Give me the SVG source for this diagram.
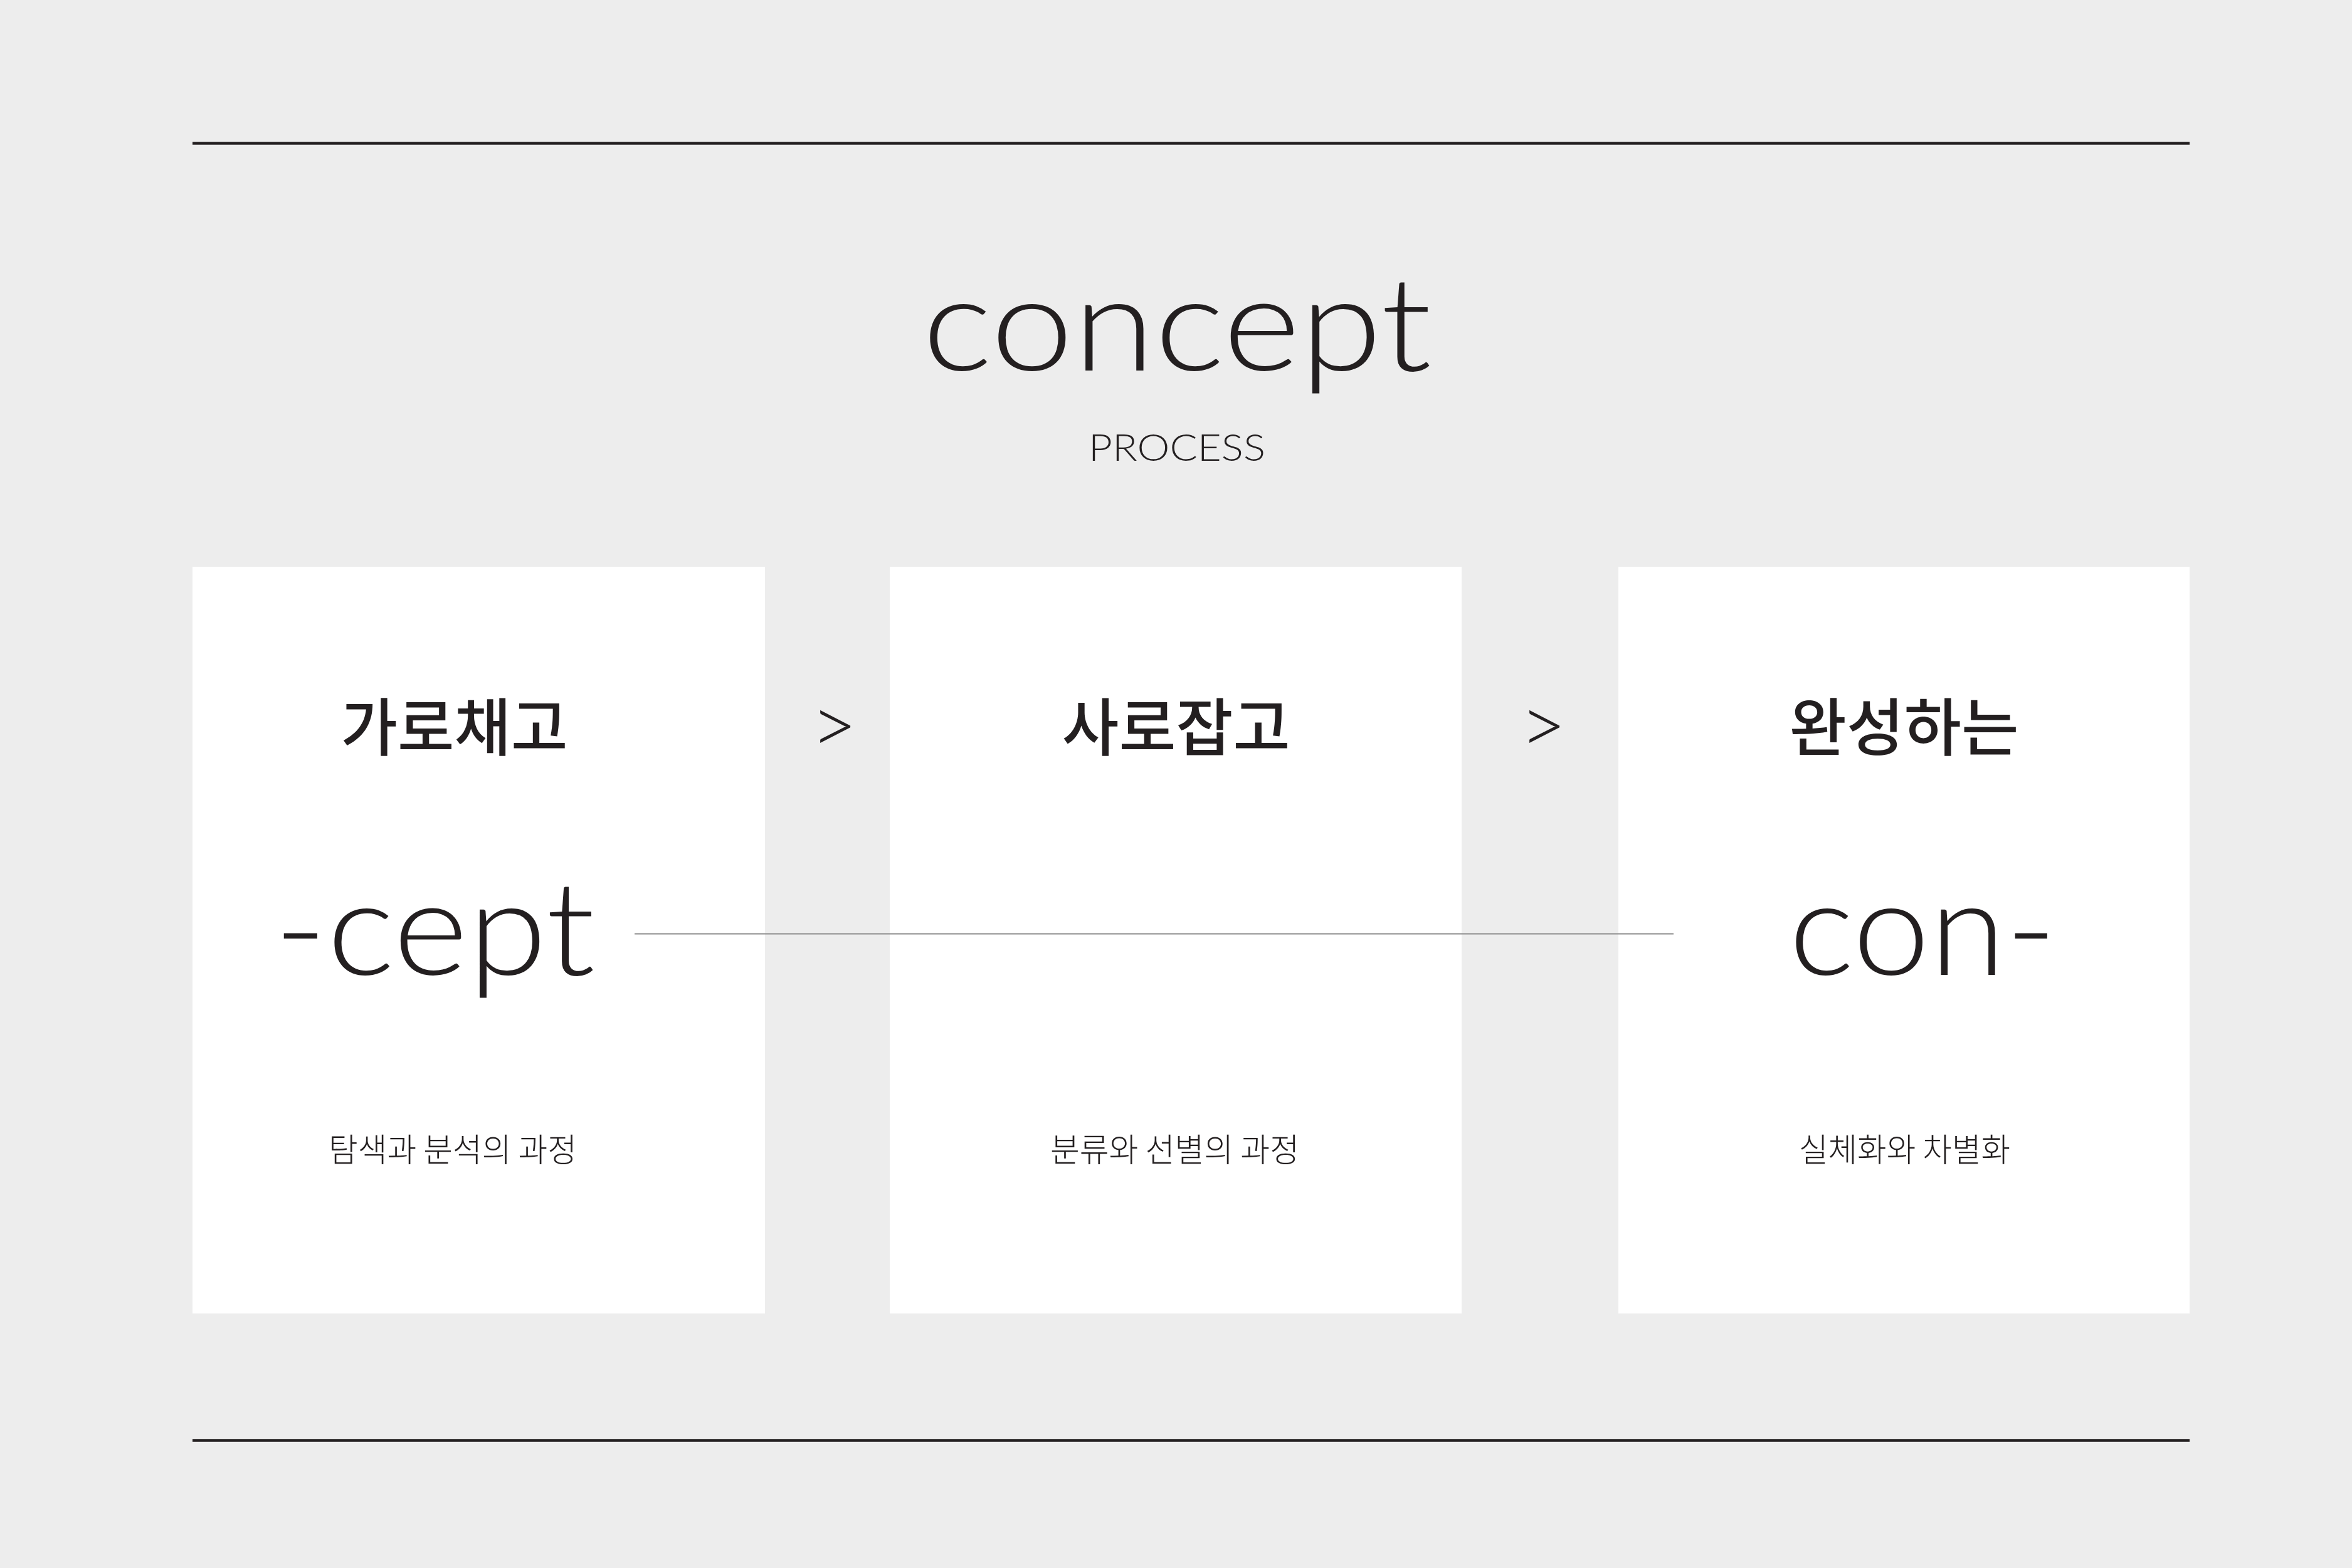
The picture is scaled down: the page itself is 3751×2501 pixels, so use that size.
<svg xmlns="http://www.w3.org/2000/svg" width="3751" height="2501" viewBox="0 0 3751 2501">
<style>
.bg{fill:#ededed}
.box{fill:#ffffff}
.rule{stroke:#231f20;stroke-width:4.5}
.link{stroke:#8c8c8c;stroke-width:2.2}
.lat{font-family:Lato,"Open Sans","Liberation Sans",sans-serif;font-weight:300;fill:#231f20}
.ttl{font-family:"Noto Sans CJK KR","Noto Sans",sans-serif;font-weight:500;font-size:100px;fill:#231f20}
.sub{font-family:"Noto Sans CJK KR","Noto Sans",sans-serif;font-weight:300;font-size:52px;fill:#231f20}
.big{font-size:210px}
</style>
<rect class="bg" x="0" y="0" width="3751" height="2501"/>
<line class="rule" x1="307" y1="228.5" x2="3492" y2="228.5"/>
<line class="rule" x1="307" y1="2297.5" x2="3492" y2="2297.5"/>
<g id="header">
<text class="lat" x="1877" y="591" font-size="210" text-anchor="middle" textLength="812" lengthAdjust="spacingAndGlyphs">concept</text>
<text class="lat" x="1877" y="735" font-size="60" text-anchor="middle" textLength="282" lengthAdjust="spacingAndGlyphs">PROCESS</text>
</g>
<g id="box1">
<rect class="box" x="307" y="904" width="913" height="1191"/>
<text class="ttl" x="724.5" y="1197" text-anchor="middle" textLength="362" lengthAdjust="spacingAndGlyphs">가로채고</text>
<text class="lat big" x="693" y="1555" text-anchor="middle" textLength="512" lengthAdjust="spacingAndGlyphs">-cept</text>
<text class="sub" x="722" y="1853" text-anchor="middle" textLength="396" lengthAdjust="spacingAndGlyphs">탐색과 분석의 과정</text>
</g>
<g id="box2">
<rect class="box" x="1419" y="904" width="912" height="1191"/>
<text class="ttl" x="1875.5" y="1197" text-anchor="middle" textLength="364" lengthAdjust="spacingAndGlyphs">사로잡고</text>
<text class="sub" x="1873.5" y="1853" text-anchor="middle" textLength="397" lengthAdjust="spacingAndGlyphs">분류와 선별의 과정</text>
</g>
<g id="box3">
<rect class="box" x="2581" y="904" width="911" height="1191"/>
<text class="ttl" x="3036.5" y="1197" text-anchor="middle" textLength="366" lengthAdjust="spacingAndGlyphs">완성하는</text>
<text class="lat big" x="3066.5" y="1555" text-anchor="middle" textLength="427" lengthAdjust="spacingAndGlyphs">con-</text>
<text class="sub" x="3037.5" y="1853" text-anchor="middle" textLength="337" lengthAdjust="spacingAndGlyphs">실체화와 차별화</text>
</g>
<g id="connectors">
<line class="link" x1="1012" y1="1489.5" x2="2669" y2="1489.5"/>
<text class="lat" x="1330" y="1202" font-size="128" text-anchor="middle">&gt;</text>
<text class="lat" x="2461" y="1202" font-size="128" text-anchor="middle">&gt;</text>
</g>
</svg>
